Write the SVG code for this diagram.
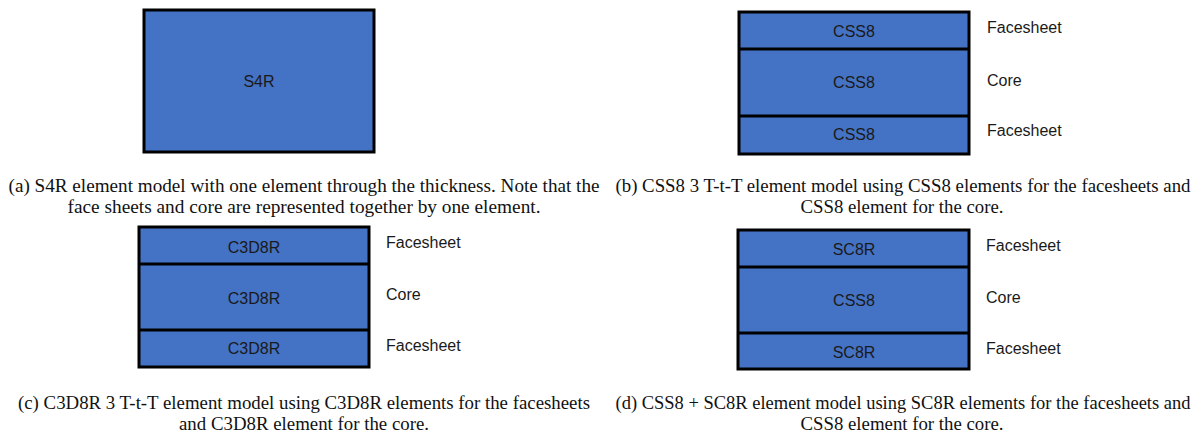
<svg xmlns="http://www.w3.org/2000/svg" width="1203" height="437" viewBox="0 0 1203 437">
<style>
.box{fill:#4472C4;stroke:#000;stroke-width:3}
.div{stroke:#000;stroke-width:3}
.lbl{font-family:"Liberation Sans",Arial,sans-serif;font-size:16px;fill:#1a1a1a;text-anchor:middle;dominant-baseline:central}
.side{font-family:"Liberation Sans",Arial,sans-serif;font-size:16px;fill:#1a1a1a;dominant-baseline:central}
.cap{font-family:"Liberation Serif","Times New Roman",serif;font-size:18px;fill:#111;text-anchor:middle}
</style>
<rect width="1203" height="437" fill="#fff"/>
<g id="a">
<rect class="box" x="144" y="10" width="230" height="142"/>
<text class="lbl" x="259" y="81">S4R</text>
</g>
<g id="b">
<rect class="box" x="739" y="12" width="230" height="142"/>
<line class="div" x1="739" y1="49" x2="969" y2="49"/>
<line class="div" x1="739" y1="116" x2="969" y2="116"/>
<text class="lbl" x="854" y="31">CSS8</text>
<text class="lbl" x="854" y="82">CSS8</text>
<text class="lbl" x="854" y="134">CSS8</text>
<text class="side" x="987" y="27">Facesheet</text>
<text class="side" x="987" y="80">Core</text>
<text class="side" x="987" y="130">Facesheet</text>
</g>
<g id="c">
<rect class="box" x="139" y="227" width="230" height="140"/>
<line class="div" x1="139" y1="264" x2="369" y2="264"/>
<line class="div" x1="139" y1="330" x2="369" y2="330"/>
<text class="lbl" x="254" y="247">C3D8R</text>
<text class="lbl" x="254" y="298">C3D8R</text>
<text class="lbl" x="254" y="348">C3D8R</text>
<text class="side" x="386" y="242">Facesheet</text>
<text class="side" x="386" y="294">Core</text>
<text class="side" x="386" y="345">Facesheet</text>
</g>
<g id="d">
<rect class="box" x="738" y="230" width="231" height="139"/>
<line class="div" x1="738" y1="267" x2="969" y2="267"/>
<line class="div" x1="738" y1="333" x2="969" y2="333"/>
<text class="lbl" x="854" y="249">SC8R</text>
<text class="lbl" x="854" y="300">CSS8</text>
<text class="lbl" x="854" y="352">SC8R</text>
<text class="side" x="986" y="245">Facesheet</text>
<text class="side" x="986" y="297">Core</text>
<text class="side" x="986" y="348">Facesheet</text>
</g>
<g id="captions">
<text class="cap" x="304" y="192" textLength="591" lengthAdjust="spacingAndGlyphs">(a) S4R element model with one element through the thickness. Note that the</text>
<text class="cap" x="304" y="213" textLength="473" lengthAdjust="spacingAndGlyphs">face sheets and core are represented together by one element.</text>
<text class="cap" x="903" y="192" textLength="575" lengthAdjust="spacingAndGlyphs">(b) CSS8 3 T-t-T element model using CSS8 elements for the facesheets and</text>
<text class="cap" x="902" y="213" textLength="203" lengthAdjust="spacingAndGlyphs">CSS8 element for the core.</text>
<text class="cap" x="304" y="409" textLength="572" lengthAdjust="spacingAndGlyphs">(c) C3D8R 3 T-t-T element model using C3D8R elements for the facesheets</text>
<text class="cap" x="304" y="430" textLength="250" lengthAdjust="spacingAndGlyphs">and C3D8R element for the core.</text>
<text class="cap" x="903" y="409" textLength="575" lengthAdjust="spacingAndGlyphs">(d) CSS8 + SC8R element model using SC8R elements for the facesheets and</text>
<text class="cap" x="902" y="430" textLength="203" lengthAdjust="spacingAndGlyphs">CSS8 element for the core.</text>
</g>
</svg>
